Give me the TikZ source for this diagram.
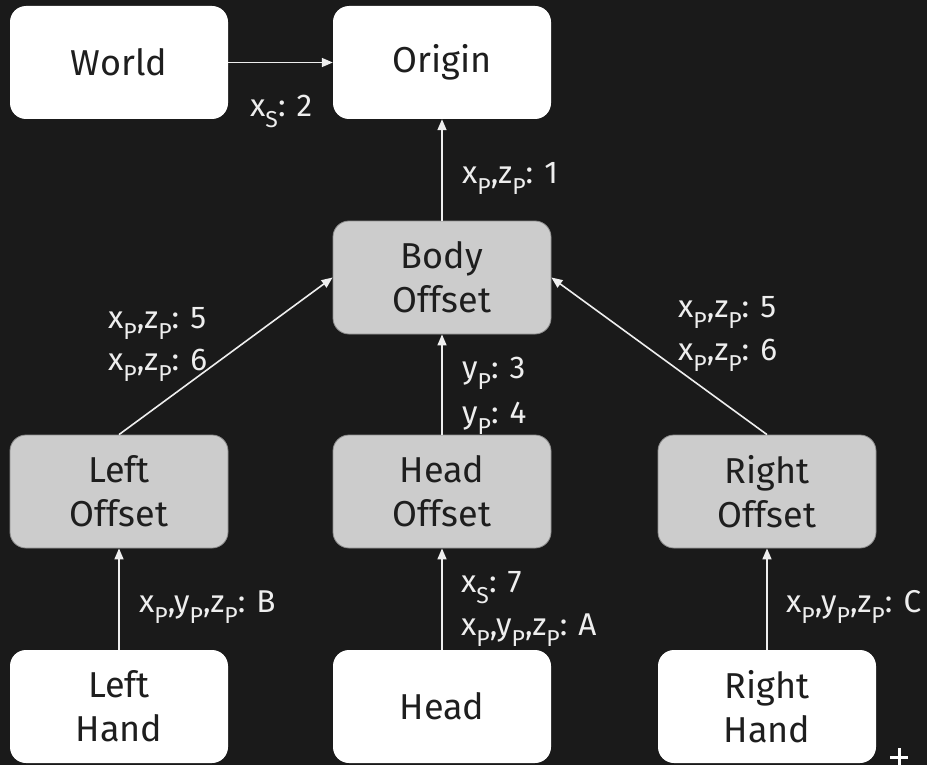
\documentclass[tikz,border=0pt]{standalone}
\usepackage{fontspec}
\setmainfont{Fira Sans}
\usetikzlibrary{arrows.meta}
\definecolor{bg}{HTML}{1A1A1A}
\definecolor{boxgray}{HTML}{CCCCCC}
\definecolor{ink}{HTML}{1E1E1E}
\definecolor{wire}{HTML}{EEEEEE}
\newcommand\lsub[1]{\raisebox{-11pt}{\fontsize{23}{23}\selectfont #1}}
\begin{document}
\begin{tikzpicture}[x=1pt,y=-1pt,
  box/.style={rounded corners=16pt, minimum width=218pt, minimum height=113pt, align=center, text=ink, font=\fontsize{36}{44}\selectfont, inner sep=0pt},
  whitebox/.style={box, fill=white},
  graybox/.style={box, fill=boxgray, draw=boxgray!70!black, line width=0.8pt},
  lab/.style={anchor=base west, text=wire, font=\fontsize{31.5}{31.5}\selectfont, inner sep=0pt},
  conn/.style={draw=wire, line width=1.6pt, -{Triangle[length=11pt,width=9pt]}}]
\fill[bg] (0,0) rectangle (927,765);
\useasboundingbox (0,0) rectangle (927,765);

\node[whitebox] (world) at (119,62.5) {World};
\node[whitebox] (origin) at (442,62.5) {Origin};
\node[graybox] (body) at (442,277.5) {Body\\Offset};
\node[graybox] (loff) at (119,491.5) {Left\\Offset};
\node[graybox] (hoff) at (442,491.5) {Head\\Offset};
\node[graybox] (roff) at (767,491.5) {Right\\Offset};
\node[whitebox] (lhand) at (119,706.5) {Left\\Hand};
\node[whitebox] (head) at (442,706.5) {Head};
\node[whitebox] (rhand) at (767,706.5) {Right\\Hand};

\draw[conn] (world) -- (origin);
\draw[conn] (body) -- (origin);
\draw[conn] (hoff) -- (body);
\draw[conn] (loff.north) -- (body.west);
\draw[conn] (roff.north) -- (body.east);
\draw[conn] (lhand) -- (loff);
\draw[conn] (head) -- (hoff);
\draw[conn] (rhand) -- (roff);

\node[lab] (l2) at (250,117) {x\lsub{S}: 2};
\node[lab] (l1) at (462,184) {x\lsub{P},z\lsub{P}: 1};
\node[lab] (l3) at (462,378) {y\lsub{P}: 3};
\node[lab] (l4) at (462,423) {y\lsub{P}: 4};
\node[lab] (l5a) at (108,328) {x\lsub{P},z\lsub{P}: 5};
\node[lab] (l6a) at (108,370) {x\lsub{P},z\lsub{P}: 6};
\node[lab] (l5b) at (678,317) {x\lsub{P},z\lsub{P}: 5};
\node[lab] (l6b) at (678,360) {x\lsub{P},z\lsub{P}: 6};
\node[lab] (lb) at (139,612) {x\lsub{P},y\lsub{P},z\lsub{P}: B};
\node[lab] (l7) at (461,592) {x\lsub{S}: 7};
\node[lab] (la) at (461,635) {x\lsub{P},y\lsub{P},z\lsub{P}: A};
\node[lab] (lc) at (786,612) {x\lsub{P},y\lsub{P},z\lsub{P}: C};

\draw[white, line width=3pt] (890,757) -- (908,757) (899,748) -- (899,765);
\end{tikzpicture}
\end{document}
